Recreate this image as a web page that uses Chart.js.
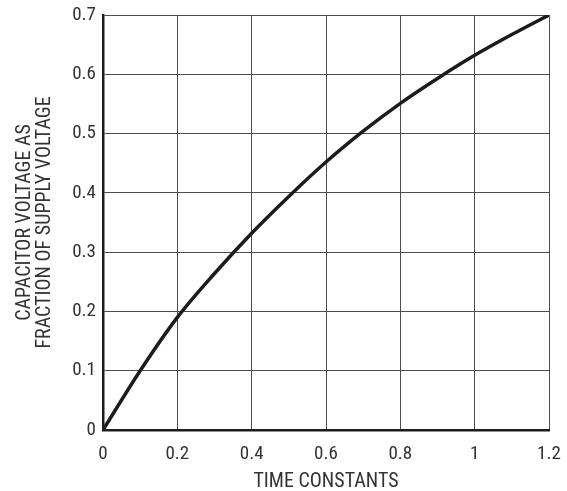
<!DOCTYPE html>
<html>
<head>
<meta charset="utf-8">
<script src="https://cdn.jsdelivr.net/npm/chart.js@4"></script>
<style>
  html, body { margin: 0; padding: 0; background: #fff; }
</style>
</head>
<body>
<canvas id="grafico" width="567" height="491"></canvas>
<script>
// time constants (x) and capacitor voltage fraction (y)
const timeConstants = [0, 0.1, 0.2, 0.3, 0.4, 0.5, 0.6, 0.7, 0.8, 0.9, 1.0, 1.1, 1.2];
const voltageFraction = [0, 0.1, 0.19, 0.264, 0.332, 0.394, 0.452, 0.504, 0.551, 0.593, 0.632, 0.667, 0.70];

const xTicks = [0, 0.2, 0.4, 0.6, 0.8, 1, 1.2];
const yTicks = [0, 0.1, 0.2, 0.3, 0.4, 0.5, 0.6, 0.7];

const xTitle = "TIME CONSTANTS";
const yTitle = ["CAPACITOR VOLTAGE AS", "FRACTION OF SUPPLY VOLTAGE"];

const fontFamily = "'Roboto Condensed', 'Liberation Sans', sans-serif";
const textColor = '#333';

const canvas = document.getElementById('grafico');

const fmt = (v) => String(+v.toFixed(1));

const config = {
    type: 'scatter',
    data: {
        datasets: [{
            data: timeConstants.map((t, i) => ({ x: t, y: voltageFraction[i] })),
            showLine: true,
            borderColor: '#1c1c1c',
            borderWidth: 3.5,
            pointRadius: 0,
            cubicInterpolationMode: 'monotone'
        }]
    },
    options: {
        responsive: false,
        animation: false,
        layout: { padding: { top: 15, right: 18, left: 0, bottom: 0 } },
        plugins: { legend: { display: false }, tooltip: { enabled: false } },
        scales: {
            x: {
                type: 'linear',
                min: 0, max: 1.2,
                afterBuildTicks: (scale) => { scale.ticks = xTicks.map(v => ({ value: v })); },
                afterFit: (scale) => {
                    scale.height = 61;
                    scale.paddingLeft = 0;
                    scale.paddingRight = 0;
                },
                grid: { color: '#4d4d4d', lineWidth: 1, drawTicks: false },
                border: { color: '#1c1c1c', width: 2.5 },
                ticks: {
                    color: textColor,
                    padding: 13,
                    maxRotation: 0,
                    font: { family: fontFamily, size: 19 },
                    callback: fmt
                },
                title: {
                    display: true,
                    text: xTitle,
                    color: textColor,
                    font: { family: fontFamily, size: 20 },
                    padding: { top: 8, bottom: -3 }
                }
            },
            y: {
                type: 'linear',
                min: 0, max: 0.7,
                afterBuildTicks: (scale) => { scale.ticks = yTicks.map(v => ({ value: v })); },
                afterFit: (scale) => {
                    scale.width = 103;
                    scale.paddingTop = 0;
                    scale.paddingBottom = 0;
                },
                grid: { color: '#4d4d4d', lineWidth: 1, drawTicks: false },
                border: { color: '#1c1c1c', width: 2.5 },
                ticks: {
                    color: textColor,
                    padding: 7,
                    font: { family: fontFamily, size: 19 },
                    callback: fmt
                },
                title: {
                    display: true,
                    text: yTitle,
                    color: textColor,
                    font: { family: fontFamily, size: 20, lineHeight: 1.0 },
                    padding: { top: 14.5, bottom: 0 }
                }
            }
        }
    }
};

new Chart(canvas, config);
</script>
</body>
</html>
